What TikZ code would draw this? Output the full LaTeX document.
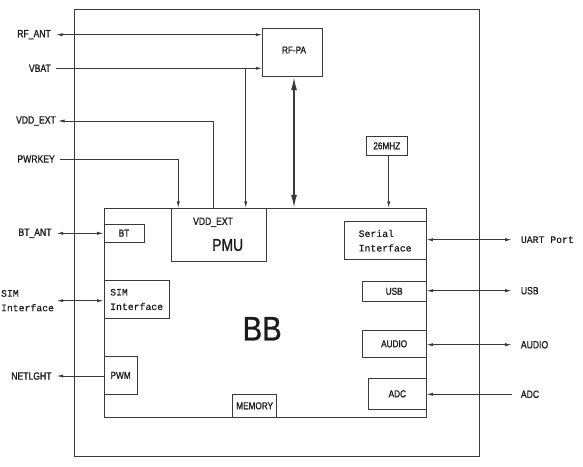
\documentclass[tikz,border=0pt]{standalone}
\usepackage{fontspec}
\setmainfont{Liberation Sans}[FakeStretch=0.82]
\newfontfamily\lblf{Liberation Sans}[FakeStretch=0.82, FakeBold=1.2]
\newfontfamily\bigf{Liberation Sans}[FakeStretch=0.86, FakeBold=0.8]
\newfontfamily\monof{Liberation Mono}[FakeBold=0.5]
\usetikzlibrary{arrows.meta}
\definecolor{linec}{HTML}{3A3A3A}
\definecolor{txtc}{HTML}{1C1C1C}
\tikzset{
  blk/.style={draw=linec, line width=0.9pt, inner sep=0pt, text=txtc,
    font=\lblf\fontsize{10}{12}\selectfont, align=center},
  lblL/.style={anchor=east, inner xsep=5pt, inner ysep=0pt, text=txtc,
    font=\lblf\fontsize{10.5}{12}\selectfont},
  lblR/.style={anchor=west, inner xsep=9pt, inner ysep=0pt, text=txtc,
    font=\lblf\fontsize{10.5}{12}\selectfont},
  mono/.style={font=\monof\fontsize{9.8}{14.5}\selectfont},
  conn/.style={draw=linec, line width=0.8pt},
  tip/.tip={Latex[length=6.5pt,width=3.2pt]},
  bigtip/.tip={Latex[length=13pt,width=6pt]},
}
\begin{document}
\begin{tikzpicture}[x=1pt,y=-1pt]
\useasboundingbox (0,0) rectangle (583,466);
% outer frame
\node[blk, minimum width=405pt, minimum height=447.7pt] (outer) at (276.8,232.85) {};
% BB
\node[blk, minimum width=322pt, minimum height=209pt] (bb) at (265,312.8) {};
\node[text=txtc, inner sep=0pt, font=\bigf\fontsize{34}{36}\selectfont] (bbt) at (262.2,328.7) {BB};
% RF-PA
\node[blk, minimum width=60pt, minimum height=48.4pt] (rfpa) at (292.7,52.5) {};
\node[text=txtc, inner sep=0pt, font=\lblf\fontsize{10}{12}\selectfont] (rfpat) at (294,50) {RF-PA};
% PMU
\node[blk, minimum width=95pt, minimum height=53pt] (pmu) at (219.2,234.8) {};
\node[text=txtc, inner sep=0pt, font=\lblf\fontsize{10.5}{12}\selectfont] (pmuv) at (213,222.3) {VDD\_EXT};
\node[text=txtc, inner sep=0pt, font=\lblf\fontsize{17}{20}\selectfont] (pmut) at (227.7,245) {PMU};
% inner blocks
\node[blk, minimum width=40pt, minimum height=18.3pt] (bt) at (124,233.15) {BT};
\node[blk, mono, minimum width=65.3pt, minimum height=37.6pt, align=left] (sim) at (136.65,299.5) {SIM\\Interface};
\node[blk, minimum width=33.3pt, minimum height=37.3pt] (pwm) at (120.65,375.35) {PWM};
\node[blk, minimum width=44pt, minimum height=23pt] (mem) at (254.7,405.8) {MEMORY};
\node[blk, mono, minimum width=81.7pt, minimum height=38pt, align=left] (serial) at (385.15,240.7) {Serial\\Interface};
\node[blk, minimum width=63.7pt, minimum height=20pt] (usb) at (394.15,291.3) {USB};
\node[blk, minimum width=63.7pt, minimum height=27pt] (audio) at (394.15,343.8) {AUDIO};
\node[blk, minimum width=57.3pt, minimum height=31pt] (adc) at (397.35,393.8) {ADC};
\node[blk, minimum width=41pt, minimum height=18.3pt] (mhz) at (386.8,145.85) {26MHZ};
% left labels
\node[lblL] (rfant) at (56,34.7) {RF\_ANT};
\node[lblL] (vbat) at (56,68.3) {VBAT};
\node[lblL, inner xsep=2pt] (vddext) at (58,121) {VDD\_EXT};
\node[lblL] (pwrkey) at (60,159) {PWRKEY};
\node[lblL] (btant) at (56.7,233.3) {BT\_ANT};
\node[lblL, mono, align=left, inner xsep=2.5pt] (simL) at (56.7,300.7) {SIM\\Interface};
\node[lblL] (netl) at (56.7,376) {NETLGHT};
% right labels
\node[lblR, mono] (uart) at (511.7,239.7) {UART Port};
\node[lblR] (usbL) at (511.7,290.7) {USB};
\node[lblR] (audioL) at (511.7,344.7) {AUDIO};
\node[lblR] (adcL) at (511.7,394.3) {ADC};
% junction x positions
\coordinate (xvbat) at (245.7,68.3);
\coordinate (xvdd) at (213.3,0);
\coordinate (xpwr) at (178.3,0);
\coordinate (xrf) at (294,0);
\coordinate (xmhz) at (388.7,0);
% connectors
\draw[conn, tip-tip] (rfant.east) -- (rfant.east -| rfpa.west);
\draw[conn, -tip] (vbat.east) -- (vbat.east -| rfpa.west);
\draw[conn, -tip] (xvbat) -- (xvbat |- pmu.north);
\draw[conn, tip-] (vddext.east) -| (xvdd |- pmu.north);
\draw[conn, -tip] (pwrkey.east) -| (xpwr |- pmu.north);
\draw[conn, line width=1.5pt, bigtip-bigtip] (xrf |- rfpa.south) -- (xrf |- bb.north);
\draw[conn, -tip] (xmhz |- mhz.south) -- (xmhz |- bb.north);
\draw[conn, tip-tip] (btant.east) -- (btant.east -| bt.west);
\draw[conn, tip-tip] (simL.east) -- (simL.east -| sim.west);
\draw[conn, tip-] (netl.east) -- (netl.east -| pwm.west);
\draw[conn, tip-tip] (uart.west) -- (uart.west -| bb.east);
\draw[conn, tip-tip] (usbL.west) -- (usbL.west -| bb.east);
\draw[conn, tip-tip] (audioL.west) -- (audioL.west -| bb.east);
\draw[conn, tip-] (adcL.west -| bb.east) -- (adcL.west);
\end{tikzpicture}
\end{document}
